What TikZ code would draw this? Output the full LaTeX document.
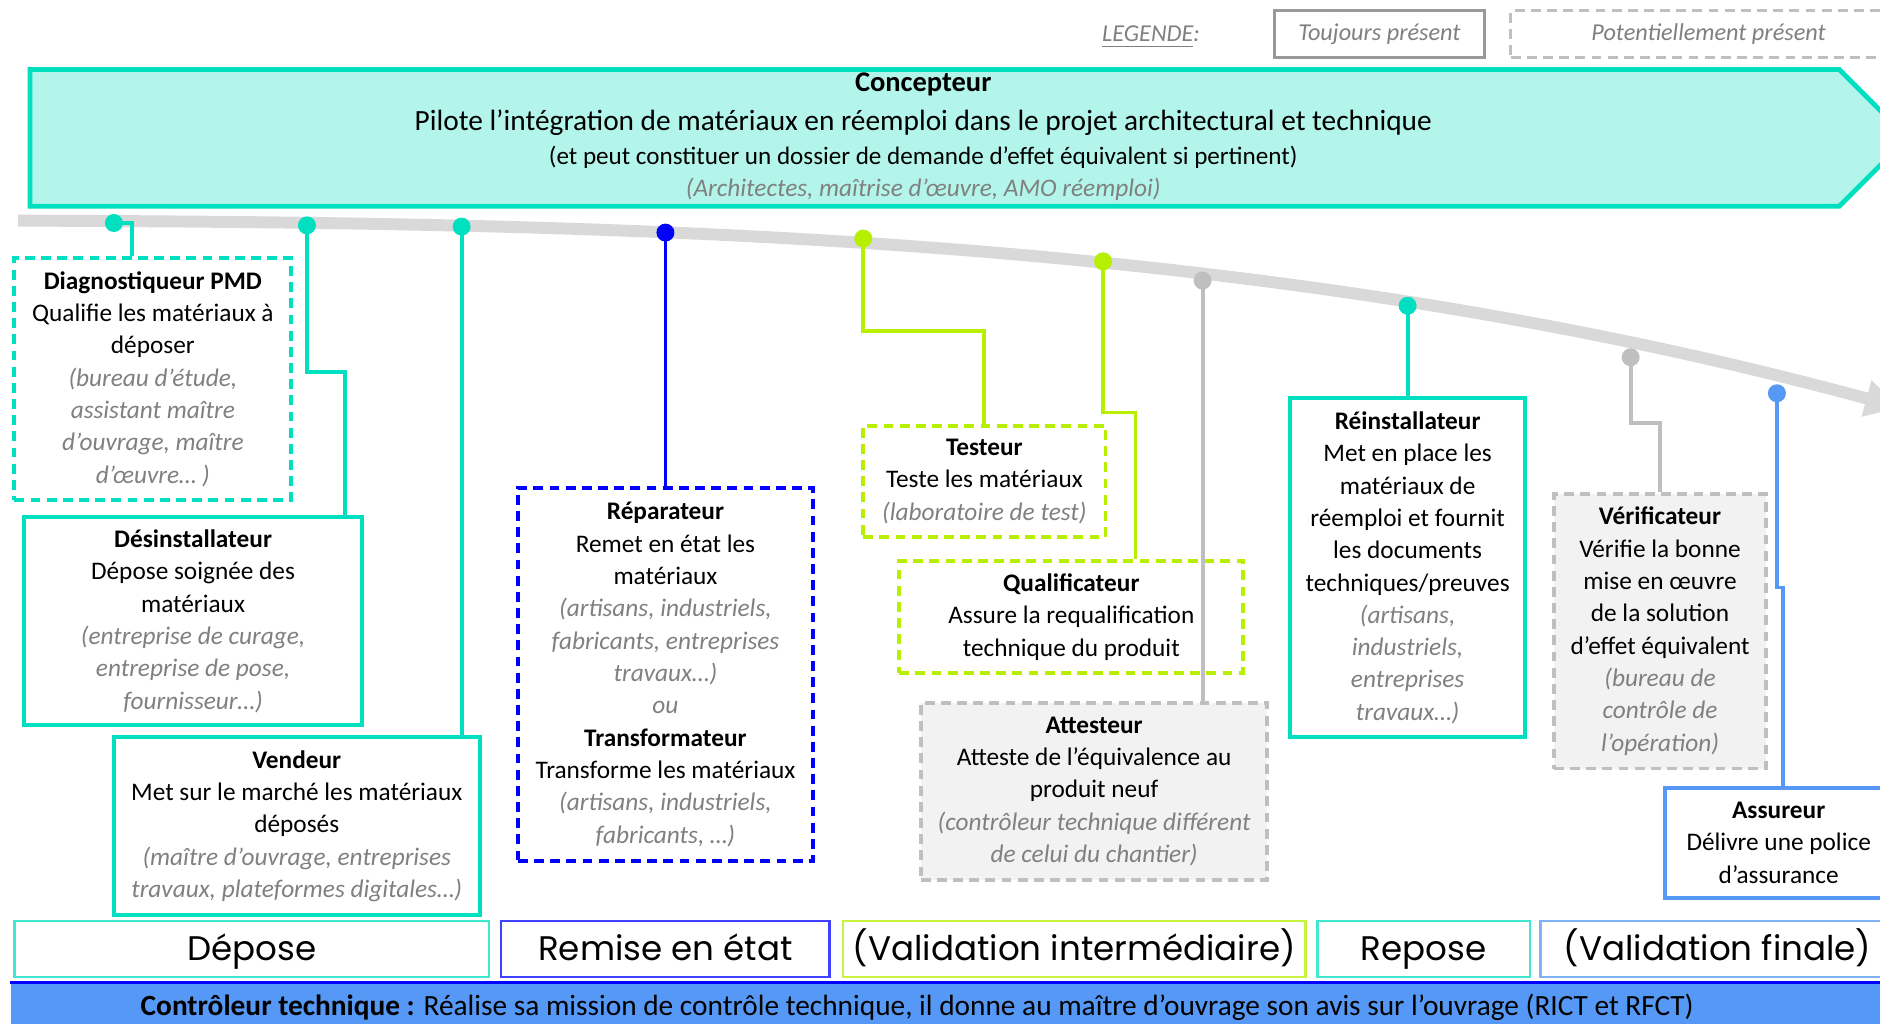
\documentclass[tikz,border=0pt]{standalone}
\usepackage{fontspec}
\setmainfont{Carlito}
\newfontfamily\phasefont{Poppins}
\usetikzlibrary{arrows.meta,calc}

\definecolor{cteal}{RGB}{0,224,192}
\definecolor{cmint}{RGB}{179,245,235}
\definecolor{clime}{RGB}{182,240,0}
\definecolor{cblue}{RGB}{0,0,255}
\definecolor{clblue}{RGB}{85,152,245}
\definecolor{cgray}{RGB}{191,191,191}
\definecolor{cfill}{RGB}{242,242,242}
\definecolor{cline}{RGB}{217,217,217}
\definecolor{csub}{RGB}{128,128,128}

\newcommand{\pxu}{0.01199cm}
\newcommand{\boxfont}{\fontsize{7.2}{9.2}\selectfont}
\newcommand{\who}[1]{{\itshape\color{csub}#1}}

\tikzset{
  solidbox/.style = {draw = #1, line width = 1.1pt, align = center, font = \boxfont, inner sep = 0pt},
  dashbox/.style = {solidbox = #1, dash pattern = on 2.8pt off 1.8pt},
  boxsize/.style 2 args = {minimum width = #1*\pxu, minimum height = #2*\pxu},
  milestone/.style = {circle, fill = #1, inner sep = 0pt, minimum size = 15*\pxu},
  link/.style = {draw = #1, line width = 1.1pt},
  phase/.style = {draw = #1, line width = 0.7pt, inner sep = 0pt, minimum height = 47*\pxu,
    text height = 8pt, text depth = 1.2pt, font = \phasefont\fontsize{9.7}{11}\selectfont},
  legendtext/.style = {font = \fontsize{6.9}{8}\selectfont\itshape, text = csub, text height = 5.2pt, text depth = 1.4pt},
}

\begin{document}
\begin{tikzpicture}[x = 0.01199cm, y = -0.01199cm]
    \clip (0,0) rectangle (1568,854);
    \fill [white] (0,0) rectangle (1568,854);

    \node (legend) at (960, 29) [legendtext] {\underline{LEGENDE}:};
    \node (always) at (1150.5, 28.5) [legendtext, draw = csub!80, line width = 0.8pt, boxsize = {175}{39}] {Toujours présent};
    \node (maybe) at (1425, 28.5) [legendtext, draw = cgray, line width = 0.8pt, dash pattern = on 2.8pt off 1.8pt,
        boxsize = {330}{39}] {Potentiellement présent};

    \draw [line width = 1.4pt, draw = cteal, fill = cmint] (25,58) -- (1534,58) -- (1591,115) -- (1534,172) -- (25,172) -- cycle;
    \node (ctitle) at (770, 70) [font = \fontsize{8.1}{9}\selectfont\bfseries] {Concepteur};
    \node (cmain) at (770, 102) [font = \fontsize{8.35}{9}\selectfont] {Pilote l’intégration de matériaux en réemploi dans le projet architectural et technique};
    \node (cnote) at (770, 131) [font = \fontsize{7.15}{8}\selectfont] {(et peut constituer un dossier de demande d’effet équivalent si pertinent)};
    \node (cwho) at (770, 158) [font = \fontsize{7.2}{8}\selectfont\itshape, text = csub] {(Architectes, maîtrise d’œuvre, AMO réemploi)};

    \draw [line width = 3.4pt, cline, -{Triangle[length = 10pt, width = 10pt]}] (15,184) .. controls (500,186) and (1040,192) .. (1585,340);

    \node (diag) at (127.5, 316) [dashbox = cteal, boxsize = {231}{202}]
        {\textbf{Diagnostiqueur PMD}\\Qualifie les matériaux à\\déposer\\\who{(bureau d’étude,}\\\who{assistant maître}\\\who{d’ouvrage, maître}\\\who{d’œuvre… )}};
    \node (desinst) at (161, 518) [solidbox = cteal, boxsize = {282}{174}]
        {\textbf{Désinstallateur}\\Dépose soignée des\\matériaux\\\who{(entreprise de curage,}\\\who{entreprise de pose,}\\\who{fournisseur…)}};
    \node (vendeur) at (247.5, 689) [solidbox = cteal, boxsize = {305}{148}]
        {\textbf{Vendeur}\\Met sur le marché les matériaux\\déposés\\\who{(maître d’ouvrage, entreprises}\\\who{travaux, plateformes digitales…)}};
    \node (repar) at (555, 562.5) [dashbox = cblue, boxsize = {246}{311}]
        {\textbf{Réparateur}\\Remet en état les\\matériaux\\\who{(artisans, industriels,}\\\who{fabricants, entreprises}\\\who{travaux…)}\\\who{ou}\\\textbf{Transformateur}\\Transforme les matériaux\\\who{(artisans, industriels,}\\\who{fabricants, …)}};
    \node (testeur) at (821, 401.5) [dashbox = clime, boxsize = {202}{93}]
        {\textbf{Testeur}\\Teste les matériaux\\\who{(laboratoire de test)}};
    \node (qualif) at (893.5, 514.5) [dashbox = clime, boxsize = {287}{93}]
        {\textbf{Qualificateur}\\Assure la requalification\\technique du produit};
    \node (attest) at (912.5, 660) [dashbox = cgray, fill = cfill, boxsize = {289}{148}]
        {\textbf{Attesteur}\\Atteste de l’équivalence au\\produit neuf\\\who{(contrôleur technique différent}\\\who{de celui du chantier)}};
    \node (reinst) at (1174, 473.5) [solidbox = cteal, boxsize = {196}{283}]
        {\textbf{Réinstallateur}\\Met en place les\\matériaux de\\réemploi et fournit\\les documents\\techniques/preuves\\\who{(artisans,}\\\who{industriels,}\\\who{entreprises}\\\who{travaux…)}};
    \node (verif) at (1384.5, 526.5) [dashbox = cgray, fill = cfill, boxsize = {177}{229}]
        {\textbf{Vérificateur}\\Vérifie la bonne\\mise en œuvre\\de la solution\\d’effet équivalent\\\who{(bureau de}\\\who{contrôle de}\\\who{l’opération)}};
    \node (assur) at (1483.5, 703) [solidbox = clblue, boxsize = {189}{92}]
        {\textbf{Assureur}\\Délivre une police\\d’assurance};

    \node (d1) at (95, 186) [milestone = cteal] {};
    \node (d2) at (256, 188) [milestone = cteal] {};
    \node (d3) at (385, 189) [milestone = cteal] {};
    \node (d4) at (555, 194) [milestone = cblue] {};
    \node (d5) at (720, 199) [milestone = clime] {};
    \node (d6) at (920, 218) [milestone = clime] {};
    \node (d7) at (1003, 234) [milestone = cgray] {};
    \node (d8) at (1174, 255) [milestone = cteal] {};
    \node (d9) at (1360, 298) [milestone = cgray] {};
    \node (d10) at (1482, 328) [milestone = clblue] {};

    \draw [link = cteal] (d1.center) -| ($(diag.north) + (-17.5, 0)$);
    \draw [link = cteal] (d2.center) -- ++(0, 122) -| ($(desinst.north) + (127, 0)$);
    \draw [link = cteal] (d3.center) -- (d3.center |- vendeur.north);
    \draw [link = cblue] (d4.center) -- (repar.north);
    \draw [link = clime] (d5.center) -- ++(0, 77) -| (testeur.north);
    \draw [link = clime] (d6.center) -- ++(0, 126) -| ($(qualif.north) + (53.5, 0)$);
    \draw [link = cgray] (d7.center) -- (d7.center |- attest.north);
    \draw [link = cteal] (d8.center) -- (reinst.north);
    \draw [link = cgray] (d9.center) -- ++(0, 55) -| (verif.north);
    \draw [link = clblue] (d10.center) -- ++(0, 162) -| ($(assur.north) + (3.5, 0)$);

    \node (depose) at (210, 791.5) [phase = cteal!75, minimum width = 396*\pxu] {Dépose};
    \node (remise) at (555, 791.5) [phase = cblue!75, minimum width = 274*\pxu] {Remise en état};
    \node (valint) at (896, 791.5) [phase = clime!75, minimum width = 386*\pxu] {(Validation intermédiaire)};
    \node (repose) at (1187.5, 791.5) [phase = cteal!75, minimum width = 177*\pxu] {Repose};
    \node (valfin) at (1432.5, 791.5) [phase = clblue!75, minimum width = 295*\pxu] {(Validation finale)};

    \node (ctbar) at (789, 840) [fill = clblue, inner sep = 0pt, minimum width = 1560*\pxu, minimum height = 40*\pxu] {};
    \draw [cblue, line width = 1pt] (ctbar.north west) -- (ctbar.north east);
    \node (cttext) at (765, 840) [font = \fontsize{8.35}{9}\selectfont] {\textbf{Contrôleur technique :} Réalise sa mission de contrôle technique, il donne au maître d’ouvrage son avis sur l’ouvrage (RICT et RFCT)};
\end{tikzpicture}
\end{document}
